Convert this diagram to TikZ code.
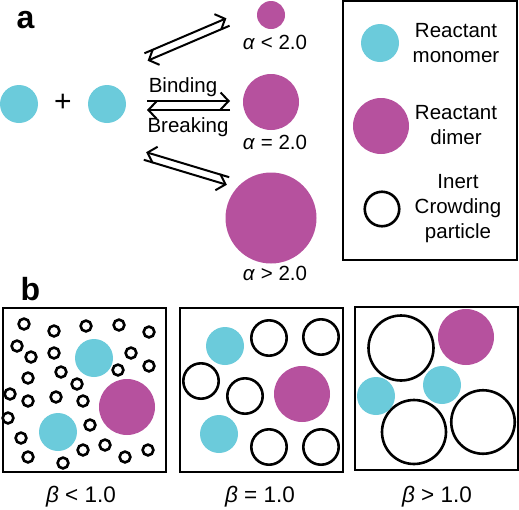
\documentclass[tikz,border=0pt]{standalone}
\usepackage{fontspec}
\setmainfont{Liberation Sans}
\usepackage{tikz}
\usetikzlibrary{arrows.meta}
\definecolor{monocyan}{HTML}{6BCBDB}
\definecolor{dimermag}{HTML}{B6519E}

\begin{document}
\begin{tikzpicture}[
    x=1pt, y=-1pt,
    >={Straight Barb[length=8pt,width=17pt]},
    font=\fontsize{20.5}{25}\selectfont,
    monomer/.style={
		circle,
		fill=monocyan,
		inner sep=0pt,
		minimum size=38pt
	},
    dimer/.style={
		circle,
		fill=dimermag,
		inner sep=0pt
	},
    crowder/.style={
		circle,
		draw=black,
		line width=2.6pt,
		inner sep=0pt
	},
    crowdsmall/.style={
		crowder,
		line width=2.6pt,
		minimum size=10.8pt
	},
    panel/.style={
		rectangle,
		draw=black,
		line width=1.3pt,
		inner sep=0pt
	},
    reaction/.style={
		line width=2pt,
		->
	},
    tag/.style={
		font=\fontsize{32}{32}\selectfont\bfseries,
		anchor=base west
	},
    note/.style={
		align=center
	},
    regime/.style={
		font=\fontsize{22.5}{25}\selectfont
	}
  ]
  \useasboundingbox (0,0) rectangle (519,509);

    % panel a: monomers, arrows and dimers
  \node [tag] (taga) at (13,28) {a};
  \node [monomer] (mono1) at (19,104) {};
  \node [font=\fontsize{30}{30}\selectfont] (plus) at (63,103) {+};
  \node [monomer] (mono2) at (107,104) {};

  \node [dimer, minimum size=28pt] (dsmall) at (271,15) {};
  \node [dimer, minimum size=56pt] (dmid) at (271,102) {};
  \node [dimer, minimum size=91pt] (dlarge) at (271,218) {};

  \node [note] (alow) at (275,42) {\textit{α} < 2.0};
  \node [note] (aeq) at (275,142) {\textit{α} = 2.0};
  \node [note] (ahigh) at (275,273) {\textit{α} > 2.0};

  \coordinate (up1) at (144.4,53.3);
  \coordinate (up2) at (226.4,18.3);
  \coordinate (up3) at (229.6,25.7);
  \coordinate (up4) at (147.6,60.7);
  \coordinate (mid1) at (147,101);
  \coordinate (mid2) at (230,101);
  \coordinate (mid3) at (230,110);
  \coordinate (mid4) at (147,110);
  \coordinate (low1) at (229.2,177.2);
  \coordinate (low2) at (146.2,152.2);
  \coordinate (low3) at (143.8,159.8);
  \coordinate (low4) at (226.8,184.8);

  \draw [reaction] (up1) -- (up2);
  \draw [reaction] (up3) -- (up4);
  \draw [reaction] (mid1) -- (mid2);
  \draw [reaction] (mid3) -- (mid4);
  \draw [reaction] (low1) -- (low2);
  \draw [reaction] (low3) -- (low4);

  \node [note] (binding) at (183,87) {Binding};
  \node [note] (breaking) at (188,127) {Breaking};

    % legend
  \node [panel, minimum width=174pt, minimum height=259pt] (legend) at (430,130.5) {};
  \node [monomer] (keymono) at (380,43) {};
  \node [note] (keymonotext) at (456,43.5) {Reactant\\monomer};
  \node [dimer, minimum size=56pt] (keydimer) at (381,126) {};
  \node [note] (keydimertext) at (456,125) {Reactant\\dimer};
  \node [crowder, minimum size=34.5pt] (keycrowd) at (382,209) {};
  \node [note] (keycrowdtext) at (458,209) {Inert\\Crowding\\particle};

    % panel b: three crowding regimes
  \node [tag] (tagb) at (17,300) {b};

  \node [panel, minimum width=163pt, minimum height=164pt] (box1) at (84.5,390) {};
  \foreach \cx/\cy [count=\i] in {24/324, 54/331, 86/326, 119/325, 149/332,
      17/346, 31/357, 54/353, 131/353, 149/366, 118/370, 61/372, 28/378,
      77/384, 10/394, 28/401, 56/397, 83/401, 8/418, 90/425, 21/438,
      83/450, 105/445, 125/457, 148/450, 28/457, 63/463}
    \node [crowdsmall] (small\i) at (\cx,\cy) {};
  \node [monomer] (b1mono1) at (94,358) {};
  \node [monomer] (b1mono2) at (58,432) {};
  \node [dimer, minimum size=56pt] (b1dimer) at (127,407) {};

  \node [panel, minimum width=163pt, minimum height=164pt] (box2) at (261.5,390) {};
  \node [monomer] (b2mono1) at (225,346) {};
  \node [monomer] (b2mono2) at (219,434) {};
  \node [dimer, minimum size=56pt] (b2dimer) at (302,394) {};
  \node [crowder, minimum size=35.4pt] (mid1c) at (269,338) {};
  \node [crowder, minimum size=35.4pt] (mid2c) at (321,337) {};
  \node [crowder, minimum size=35.4pt] (mid3c) at (201,381) {};
  \node [crowder, minimum size=35.4pt] (mid4c) at (245,396) {};
  \node [crowder, minimum size=35.4pt] (mid5c) at (269,447) {};
  \node [crowder, minimum size=35.4pt] (mid6c) at (321,447) {};

  \node [panel, minimum width=163pt, minimum height=163pt] (box3) at (436.5,388.5) {};
  \node [crowder, minimum size=65pt] (big1) at (401,348) {};
  \node [crowder, minimum size=64pt] (big2) at (414,432) {};
  \node [crowder, minimum size=63.5pt] (big3) at (483,422) {};
  \node [dimer, minimum size=56pt] (b3dimer) at (466,337) {};
  \node [monomer] (b3mono1) at (376,396) {};
  \node [monomer] (b3mono2) at (442,385) {};

  \node [regime] (blow) at (81,497) {\textit{β} < 1.0};
  \node [regime] (beq) at (260,497) {\textit{β} = 1.0};
  \node [regime] (bhigh) at (437,497) {\textit{β} > 1.0};

\end{tikzpicture}
\end{document}
